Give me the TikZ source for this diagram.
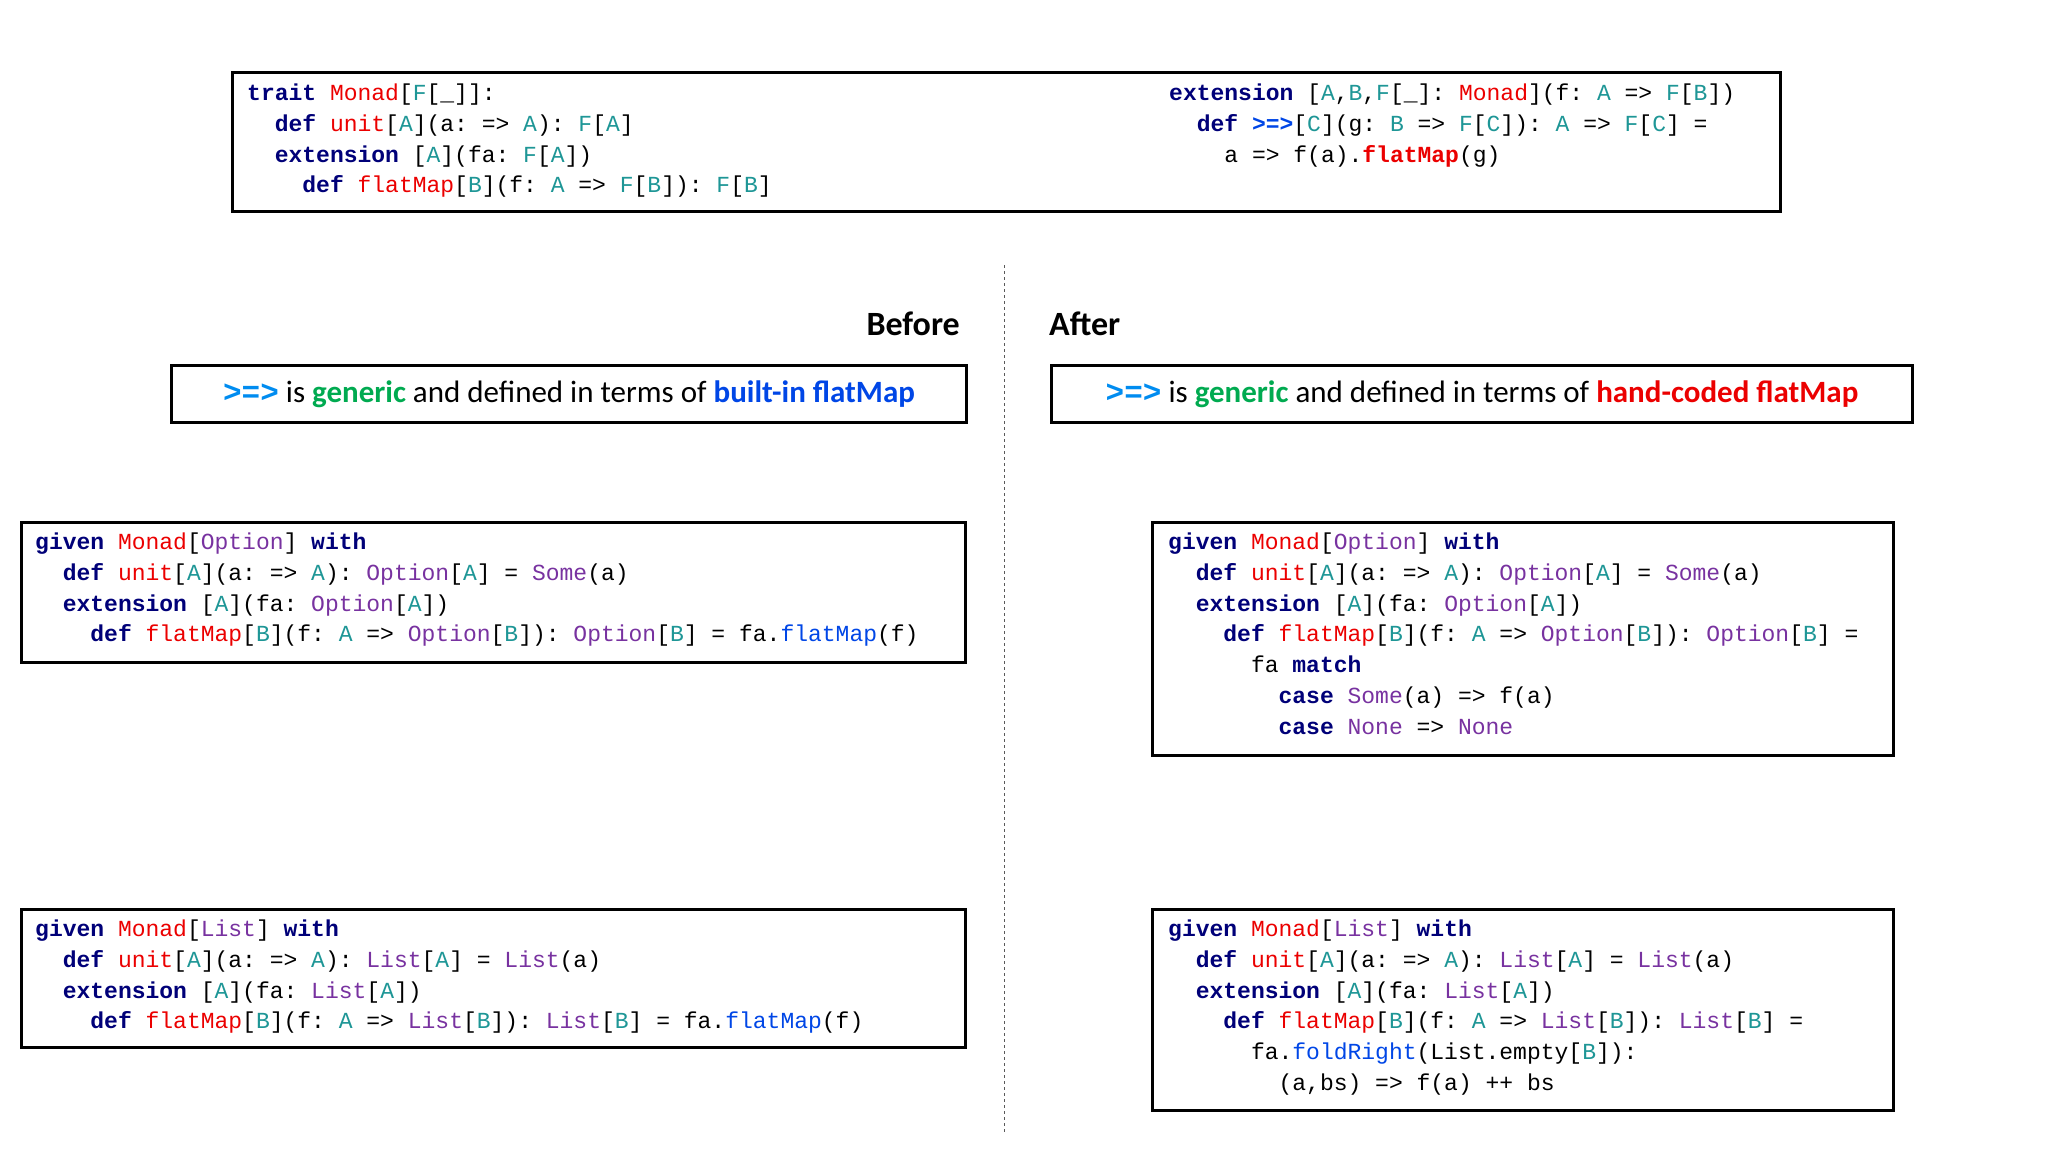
\documentclass[tikz,border=0pt]{standalone}
\usepackage{fontspec}
\setmainfont{Carlito}
\setmonofont{Liberation Mono}
\definecolor{kwc}{RGB}{0,0,120}
\definecolor{rdc}{RGB}{235,0,0}
\definecolor{tpc}{RGB}{30,150,150}
\definecolor{puc}{RGB}{120,50,160}
\definecolor{blc}{RGB}{0,70,230}
\definecolor{gnc}{RGB}{0,170,80}
\definecolor{arc}{RGB}{0,140,240}
\newcommand{\kw}[1]{\textbf{\textcolor{kwc}{#1}}}
\newcommand{\rd}[1]{\textcolor{rdc}{#1}}
\newcommand{\tp}[1]{\textcolor{tpc}{#1}}
\newcommand{\pu}[1]{\textcolor{puc}{#1}}
\newcommand{\bl}[1]{\textcolor{blc}{#1}}
\newcommand{\ind}[1]{\hspace*{#1\dimexpr 0.6em\relax}}
\begin{document}
\begin{tikzpicture}[x=1pt,y=-1pt,
  code/.style={anchor=north west,inner sep=0pt,align=left,font=\ttfamily\fontsize{23}{30.7}\selectfont},
  frame/.style={draw,line width=3pt,inner sep=0pt},
  banner/.style={font=\fontsize{31}{36}\selectfont,inner sep=0pt}]
\useasboundingbox (0,0) rectangle (2048,1152);
\node[frame,fit/.style={},minimum width=1548pt,minimum height=139pt,anchor=north west] (top) at (231,71) {};
\node[code] (topl) at (247,84) {\kw{trait} \rd{Monad}[\tp{F}[\_]]:\\
\ind{2}\kw{def} \rd{unit}[\tp{A}](a: => \tp{A}): \tp{F}[\tp{A}]\\
\ind{2}\kw{extension} [\tp{A}](fa: \tp{F}[\tp{A}])\\
\ind{4}\kw{def} \rd{flatMap}[\tp{B}](f: \tp{A} => \tp{F}[\tp{B}]): \tp{F}[\tp{B}]};
\node[code] (topr) at (1169,84) {\kw{extension} [\tp{A},\tp{B},\tp{F}[\_]: \rd{Monad}](f: \tp{A} => \tp{F}[\tp{B}])\\
\ind{2}\kw{def} \bl{\textbf{>=>}}[\tp{C}](g: \tp{B} => \tp{F}[\tp{C}]): \tp{A} => \tp{F}[\tp{C}] =\\
\ind{4}a => f(a).\rd{\textbf{flatMap}}(g)};
\coordinate (d1) at (1004,265);
\coordinate (d2) at (1004,1134);
\draw[dashed,gray!70!black,line width=1pt] (d1) -- (d2);
\node[anchor=east,font=\bfseries\fontsize{34}{40}\selectfont,inner sep=0pt] (before) at (960,324) {Before};
\node[anchor=west,font=\bfseries\fontsize{34}{40}\selectfont,inner sep=0pt] (after) at (1049,324) {After};
\node[frame,minimum width=795pt,minimum height=57pt,anchor=north west] (bl) at (170,364) {};
\node[banner] (blt) at (bl.center) {\textcolor{arc}{\ttfamily\bfseries >=>} is \textbf{\textcolor{gnc}{generic}} and defined in terms of \textbf{\textcolor{blc}{built-in flatMap}}};
\node[frame,minimum width=861pt,minimum height=57pt,anchor=north west] (br) at (1050,364) {};
\node[banner] (brt) at (br.center) {\textcolor{arc}{\ttfamily\bfseries >=>} is \textbf{\textcolor{gnc}{generic}} and defined in terms of \textbf{\textcolor{rdc}{hand-coded flatMap}}};
\node[frame,minimum width=944pt,minimum height=140pt,anchor=north west] (ol) at (20,521) {};
\node[code] (olt) at (35,533) {\kw{given} \rd{Monad}[\pu{Option}] \kw{with}\\
\ind{2}\kw{def} \rd{unit}[\tp{A}](a: => \tp{A}): \pu{Option}[\tp{A}] = \pu{Some}(a)\\
\ind{2}\kw{extension} [\tp{A}](fa: \pu{Option}[\tp{A}])\\
\ind{4}\kw{def} \rd{flatMap}[\tp{B}](f: \tp{A} => \pu{Option}[\tp{B}]): \pu{Option}[\tp{B}] = fa.\bl{flatMap}(f)};
\node[frame,minimum width=944pt,minimum height=138pt,anchor=north west] (ll) at (20,908) {};
\node[code] (llt) at (35,920) {\kw{given} \rd{Monad}[\pu{List}] \kw{with}\\
\ind{2}\kw{def} \rd{unit}[\tp{A}](a: => \tp{A}): \pu{List}[\tp{A}] = \pu{List}(a)\\
\ind{2}\kw{extension} [\tp{A}](fa: \pu{List}[\tp{A}])\\
\ind{4}\kw{def} \rd{flatMap}[\tp{B}](f: \tp{A} => \pu{List}[\tp{B}]): \pu{List}[\tp{B}] = fa.\bl{flatMap}(f)};
\node[frame,minimum width=741pt,minimum height=233pt,anchor=north west] (or) at (1151,521) {};
\node[code] (ort) at (1168,533) {\kw{given} \rd{Monad}[\pu{Option}] \kw{with}\\
\ind{2}\kw{def} \rd{unit}[\tp{A}](a: => \tp{A}): \pu{Option}[\tp{A}] = \pu{Some}(a)\\
\ind{2}\kw{extension} [\tp{A}](fa: \pu{Option}[\tp{A}])\\
\ind{4}\kw{def} \rd{flatMap}[\tp{B}](f: \tp{A} => \pu{Option}[\tp{B}]): \pu{Option}[\tp{B}] =\\
\ind{6}fa \kw{match}\\
\ind{8}\kw{case} \pu{Some}(a) => f(a)\\
\ind{8}\kw{case} \pu{None} => \pu{None}};
\node[frame,minimum width=741pt,minimum height=201pt,anchor=north west] (lr) at (1151,908) {};
\node[code] (lrt) at (1168,920) {\kw{given} \rd{Monad}[\pu{List}] \kw{with}\\
\ind{2}\kw{def} \rd{unit}[\tp{A}](a: => \tp{A}): \pu{List}[\tp{A}] = \pu{List}(a)\\
\ind{2}\kw{extension} [\tp{A}](fa: \pu{List}[\tp{A}])\\
\ind{4}\kw{def} \rd{flatMap}[\tp{B}](f: \tp{A} => \pu{List}[\tp{B}]): \pu{List}[\tp{B}] =\\
\ind{6}fa.\bl{foldRight}(List.empty[\tp{B}]):\\
\ind{8}(a,bs) => f(a) ++ bs};
\end{tikzpicture}
\end{document}
